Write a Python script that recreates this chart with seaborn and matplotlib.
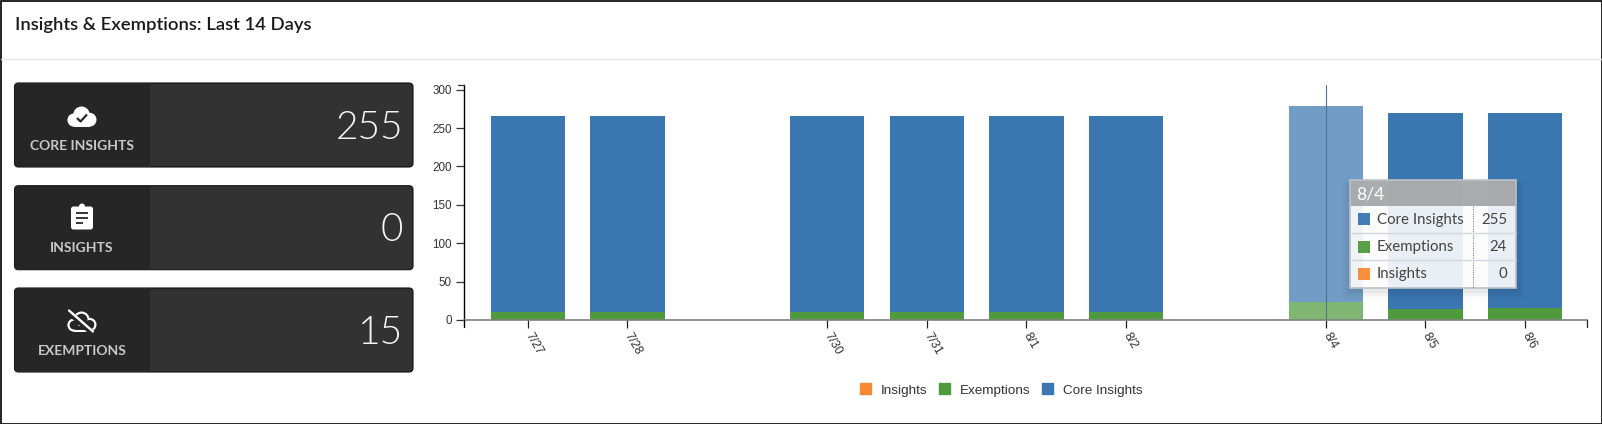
import numpy as np
import pandas as pd
import matplotlib
matplotlib.use('Agg')
import matplotlib.pyplot as plt
from matplotlib import font_manager as fm
from matplotlib.colors import to_rgb
from matplotlib.patches import Rectangle, FancyBboxPatch, Circle, Patch
import seaborn as sns

# chart data, nan = no data that day
days = ['7/27', '7/28', '7/29', '7/30', '7/31', '8/1', '8/2', '8/3', '8/4', '8/5', '8/6']
core_insights = [255, 255, np.nan, 255, 255, 255, 255, np.nan, 255, 255, 255]
exemptions = [10, 10, np.nan, 10, 10, 10, 10, np.nan, 24, 14, 15]
insights = [0, 0, np.nan, 0, 0, 0, 0, np.nan, 0, 0, 0]
y_ticks = [0, 50, 100, 150, 200, 250, 300]

# cards on the left
card_labels = ['CORE INSIGHTS', 'INSIGHTS', 'EXEMPTIONS']
card_values = [255, 0, 15]
hover_day = '8/4'

BLUE = '#3a76b0'
GREEN = '#4f9a3c'
ORANGE = '#f58a33'
W, H = 1602, 424

sns.set_theme(style='white')
plt.rcParams['font.family'] = ['Liberation Sans', 'DejaVu Sans']


def lato(style, size):
    # pick the face by its file name, weight matching is not reliable for Lato
    for f in fm.fontManager.ttflist:
        stem = f.fname.rsplit('/', 1)[-1].split('.')[0].lower()
        if stem == 'lato-' + style:
            return fm.FontProperties(fname=f.fname, size=size)
    return fm.FontProperties(family='Lato', size=size)


df = pd.DataFrame({'day': days, 'core': core_insights, 'exempt': exemptions, 'insights': insights})
df['core_top'] = df['exempt'] + df['core']
df['total'] = df['core_top'] + df['insights']

fig = plt.figure(figsize=(W / 100, H / 100), dpi=100, facecolor='white')


def px_axes(left, top, right, bottom):
    return fig.add_axes([left / W, 1 - bottom / H, (right - left) / W, (bottom - top) / H])


# main bar chart, stacked by drawing the running totals back to front
ax = px_axes(464.3, 84.7, 1587, 320)
for col, color in [('total', ORANGE), ('core_top', BLUE), ('exempt', GREEN)]:
    sns.barplot(data=df, x='day', y=col, order=days, color=color, saturation=1,
                width=0.745, ax=ax, linewidth=0, errorbar=None)

# hovered bar is washed out, mix with white so the layers underneath don't show
hover_pos = days.index(hover_day)
for p in ax.patches:
    if abs(p.get_x() + p.get_width() / 2 - hover_pos) < 0.1:
        rgb = np.array(to_rgb(p.get_facecolor()[:3]))
        p.set_facecolor(tuple(rgb * 0.72 + 0.28))

ax.set_xlim(-0.6355, 10.62)
ax.set_ylim(0, 306.4)
ax.set_xlabel('')
ax.set_ylabel('')
ax.set_facecolor('none')
shown = [i for i, v in enumerate(core_insights) if not np.isnan(v)]
ax.set_xticks(shown)
ax.set_xticklabels([days[i] for i in shown], rotation=-60, ha='left', va='center',
                   rotation_mode='anchor', fontsize=8.8, color='#333333')
ax.set_yticks(y_ticks)
ax.set_yticklabels([str(v) for v in y_ticks], fontsize=8.4, color='#333333')
ax.tick_params(axis='x', length=6, width=0.9, color='#222222', pad=4, bottom=True)
ax.tick_params(axis='y', length=6, width=0.9, color='#333333', pad=3, left=True)
for name in ['top', 'right']:
    ax.spines[name].set_visible(False)
ax.spines['left'].set_color('black')
ax.spines['left'].set_linewidth(1.0)
ax.spines['left'].set_bounds(0, 306.4)
ax.spines['bottom'].set_color('#808080')
ax.spines['bottom'].set_linewidth(1.2)
ax.axvline(hover_pos, color='#55718f', lw=0.8)

handles = [Patch(color=ORANGE, label='Insights'), Patch(color=GREEN, label='Exemptions'),
           Patch(color=BLUE, label='Core Insights')]
fig.legend(handles=handles, ncols=3, frameon=False, loc='center',
           bbox_to_anchor=(1001 / W, 1 - 390 / H), fontsize=9.7, handlelength=0.85,
           handleheight=0.85, handletextpad=0.7, columnspacing=0.85, labelcolor='#333333',
           borderpad=0, borderaxespad=0)

# everything else goes on a full figure overlay in pixel coordinates
ov = fig.add_axes([0, 0, 1, 1], zorder=5)
ov.set_xlim(0, W)
ov.set_ylim(H, 0)
ov.axis('off')
ov.patch.set_alpha(0)

ov.add_patch(Rectangle((0.5, 0.5), W - 1, H - 1, fill=False, ec='black', lw=1.2))
ov.plot([1, W - 1], [58.5, 58.5], color='#e6e6e6', lw=1.0)
ov.text(14.7, 30, 'Insights & Exemptions: Last 14 Days', fontproperties=lato('semibold', 13.3),
        color='#1a1a1a', va='baseline')

# axis end ticks the d3 axis draws past the data
ov.plot([464.3, 464.3], [320, 326.7], color='black', lw=1.0)
ov.plot([458, 464.3], [84.9, 84.9], color='#333333', lw=0.9)
ov.plot([1587, 1587], [320, 327], color='#222222', lw=0.9)


def cloud(cx, cy, color, grow=0.0, z=3):
    for dx, dy, r in [(-8, 3.6, 6.6), (-0.5, -1.8, 8.2), (7.6, 3.2, 6.9)]:
        ov.add_patch(Circle((cx + dx, cy + dy), r + grow, fc=color, ec='none', zorder=z))
    ov.add_patch(Rectangle((cx - 8 - grow / 2, cy + 2 - grow), 15.6 + grow, 8.2 + 2 * grow,
                           fc=color, ec='none', zorder=z))


def icon_check(cx, cy):
    cloud(cx, cy, 'white')
    ov.plot([cx - 5, cx - 1.5, cx + 5], [cy + 1.5, cy + 5, cy - 2], color='#262626', lw=1.6,
            zorder=4, solid_capstyle='butt')


def icon_clip(cx, cy):
    ov.add_patch(FancyBboxPatch((cx - 9.5, cy - 9.5), 19, 20, boxstyle='round,pad=1.5,rounding_size=2.5',
                                fc='white', ec='none', zorder=3))
    ov.add_patch(Circle((cx, cy - 11), 3, fc='white', ec='none', zorder=3))
    for dy, half in [(-4.5, 6), (0.5, 6), (5.5, 3.5)]:
        ov.plot([cx - 6, cx - 6 + 2 * half], [cy + dy, cy + dy], color='#262626', lw=1.3, zorder=4,
                solid_capstyle='butt')


def icon_cross(cx, cy):
    cloud(cx, cy, 'white', grow=0, z=3)
    cloud(cx, cy, '#262626', grow=-2.2, z=3.5)
    ov.plot([cx - 13, cx + 11], [cy - 9, cy + 12], color='#262626', lw=4.0, zorder=4)
    ov.plot([cx - 13, cx + 11], [cy - 11, cy + 10], color='white', lw=1.7, zorder=4.5)


cards_top = [83, 185.7, 288]
icons = [(icon_check, 116.5), (icon_clip, 217.5), (icon_cross, 321.5)]
for label, value, top, (icon, icon_y) in zip(card_labels, card_values, cards_top, icons):
    card = FancyBboxPatch((14.5 + 4, top + 4), 398.5 - 8, 84 - 8, boxstyle='round,pad=4,rounding_size=4',
                          fc='#323232', ec='#111111', lw=0.8, zorder=1)
    ov.add_patch(card)
    left = Rectangle((14, top), 136, 84, fc='#262626', ec='none', zorder=2)
    ov.add_patch(left)
    left.set_clip_path(card)
    icon(82, icon_y)
    ov.text(82, top + 66.8, label, fontproperties=lato('bold', 10.0), color='#c9c9c9',
            ha='center', va='baseline', zorder=3)
    ov.text(403, top + 55.6, str(value), fontproperties=lato('light', 28), color='#f5f5f5',
            ha='right', va='baseline', zorder=3)

# hover tooltip over the bars
row = df[df['day'] == hover_day].iloc[0]
tx0, ty0, tx1, ty1 = 1350, 179.5, 1516, 287.5
for g, a in [(9, 0.02), (6, 0.03), (3, 0.04)]:
    ov.add_patch(Rectangle((tx0 - g + 1, ty0 + 2), tx1 - tx0 + 2 * g - 2, ty1 - ty0 + g, fc='black',
                           ec='none', alpha=a, zorder=6))
ov.add_patch(Rectangle((tx0, ty0), tx1 - tx0, ty1 - ty0, fc='white', ec='none', alpha=0.9, zorder=7))
ov.add_patch(Rectangle((tx0, ty0), tx1 - tx0, 26, fc='#9fa1a4', ec='none', alpha=0.88, zorder=7.1))
ov.add_patch(Rectangle((tx0, ty0), tx1 - tx0, ty1 - ty0, fill=False, ec='#bcc1c9', lw=1.2, zorder=8))
ov.text(1356.6, 199, hover_day, fontproperties=lato('regular', 12.6), color='white', va='baseline', zorder=9)
ov.plot([1473, 1473], [206, ty1], color='#666666', lw=0.7, ls=(0, (1, 1.5)), zorder=8)
tip_rows = [('Core Insights', row['core'], BLUE), ('Exemptions', row['exempt'], GREEN),
            ('Insights', row['insights'], ORANGE)]
for i, (name, val, color) in enumerate(tip_rows):
    cy = 219.3 + 27.2 * i
    ov.add_patch(Rectangle((1357.8, cy - 6), 12, 12, fc=color, ec='none', alpha=0.95, zorder=9))
    ov.text(1377, cy + 4.5, name, fontproperties=lato('regular', 10.8), color='#444444', va='baseline', zorder=9)
    ov.text(1507, cy + 4.5, str(int(val)), fontproperties=lato('regular', 10.8), color='#444444', ha='right',
            va='baseline', zorder=9)
    if i < 2:
        ov.plot([tx0, tx1], [cy + 13.5, cy + 13.5], color='#d3d6dc', lw=1.0, zorder=8)

fig.savefig('out.png', dpi=100)
